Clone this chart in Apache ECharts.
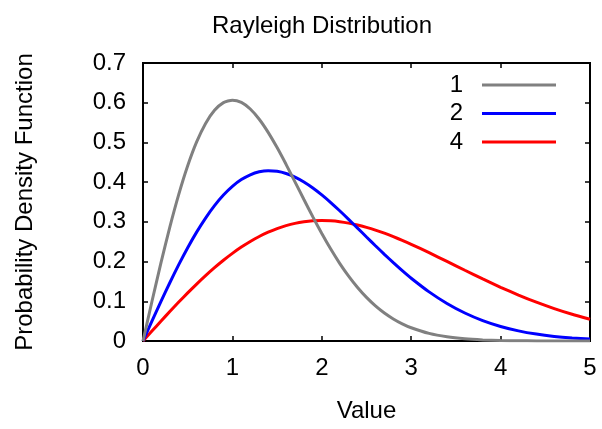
<!DOCTYPE html>
<html><head><meta charset="utf-8">
<script src="https://cdn.jsdelivr.net/npm/echarts@6/dist/echarts.min.js"></script>
<style>html,body{margin:0;padding:0;background:#fff}#c{width:602px;height:429px}</style>
</head><body><div id="c"></div>
<script>
const xs = [0,0.1,0.2,0.3,0.4,0.5,0.6,0.7,0.8,0.9,1.0,1.1,1.2,1.3,1.4,1.5,1.6,1.7,1.8,1.9,2.0,2.1,2.2,2.3,2.4,2.5,2.6,2.7,2.8,2.9,3.0,3.2,3.4,3.6,3.8,4.0,4.2,4.4,4.6,4.8,5.0];
const s1 = [0,0.0995,0.1960,0.2868,0.3692,0.4412,0.5012,0.5479,0.5809,0.6003,0.6065,0.6007,0.5841,0.5584,0.5254,0.4870,0.4449,0.4008,0.3562,0.3125,0.2707,0.2315,0.1956,0.1633,0.1347,0.1098,0.0885,0.0705,0.0556,0.0433,0.0333,0.0191,0.0105,0.0055,0.0028,0.0013,0.0006,0.0003,0.0001,0.0000,0.0000];
const s2 = [0,0.0499,0.0990,0.1467,0.1922,0.2349,0.2742,0.3096,0.3409,0.3675,0.3894,0.4064,0.4186,0.4260,0.4288,0.4273,0.4218,0.4127,0.4004,0.3853,0.3679,0.3487,0.3280,0.3064,0.2843,0.2620,0.2399,0.2182,0.1972,0.1771,0.1581,0.1237,0.0945,0.0705,0.0514,0.0366,0.0255,0.0174,0.0116,0.0076,0.0048];
const s4 = [0,0.0250,0.0498,0.0742,0.0980,0.1212,0.1434,0.1646,0.1846,0.2033,0.2206,0.2364,0.2506,0.2631,0.2739,0.2831,0.2905,0.2962,0.3001,0.3025,0.3033,0.3025,0.3003,0.2968,0.2921,0.2861,0.2792,0.2714,0.2627,0.2534,0.2435,0.2224,0.2004,0.1781,0.1562,0.1353,0.1158,0.0978,0.0817,0.0674,0.0549];
const seriesNames = ['1','2','4'];
const colors = ['#808080','#0000ff','#ff0000'];
const FONT = '"Liberation Sans", Arial, sans-serif';
const chart = echarts.init(document.getElementById('c'), null, {renderer:'canvas'});
const pair = a => xs.map((x,i)=>[x,a[i]]);
const lbl = {fontFamily:FONT,fontSize:24,color:'#000'};
const axisLine = {show:true,onZero:false,lineStyle:{color:'#000',width:2}};
const tick = {show:true,inside:true,length:5,lineStyle:{color:'#000',width:1.5}};
const series = [s1,s2,s4].map((d,i)=>({name:seriesNames[i],type:'line',data:pair(d),smooth:0.2,symbol:'none',
    lineStyle:{color:colors[i],width:3},itemStyle:{color:colors[i]},z:3-i}));
series.push({type:'line',xAxisIndex:1,yAxisIndex:1,data:[],symbol:'none',silent:true});
chart.setOption({
  animation:false,
  title:{text:'Rayleigh Distribution',left:317,textAlign:'center',top:9,textStyle:{fontFamily:FONT,fontSize:24,fontWeight:'normal',color:'#000'}},
  legend:{orient:'vertical',right:46,top:73,align:'right',itemWidth:74,itemHeight:3,itemGap:4.5,padding:0,
    textStyle:{fontFamily:FONT,fontSize:24,lineHeight:24,color:'#000',padding:[0,14,0,0]},
    data:seriesNames.map(n=>({name:n,icon:'rect'}))},
  grid:{left:143,right:12,top:63,bottom:88,show:true,borderColor:'#000',borderWidth:2,backgroundColor:'transparent'},
  xAxis:[
    {type:'value',min:0,max:5,interval:1,axisLine:axisLine,axisTick:tick,splitLine:{show:false},
     axisLabel:Object.assign({margin:15},lbl),
     name:'Value',nameLocation:'middle',nameGap:58,nameTextStyle:lbl},
    {type:'value',position:'top',min:0,max:5,interval:1,axisLine:axisLine,axisTick:tick,splitLine:{show:false},axisLabel:{show:false}}
  ],
  yAxis:[
    {type:'value',min:0,max:0.7,interval:0.1,axisLine:axisLine,axisTick:tick,splitLine:{show:false},
     axisLabel:Object.assign({margin:17,formatter:v=>String(+v.toFixed(1))},lbl),
     name:'Probability Density Function',nameLocation:'middle',nameGap:106,nameTextStyle:lbl},
    {type:'value',position:'right',min:0,max:0.7,interval:0.1,axisLine:axisLine,axisTick:tick,splitLine:{show:false},axisLabel:{show:false}}
  ],
  series:series
});
</script></body></html>
